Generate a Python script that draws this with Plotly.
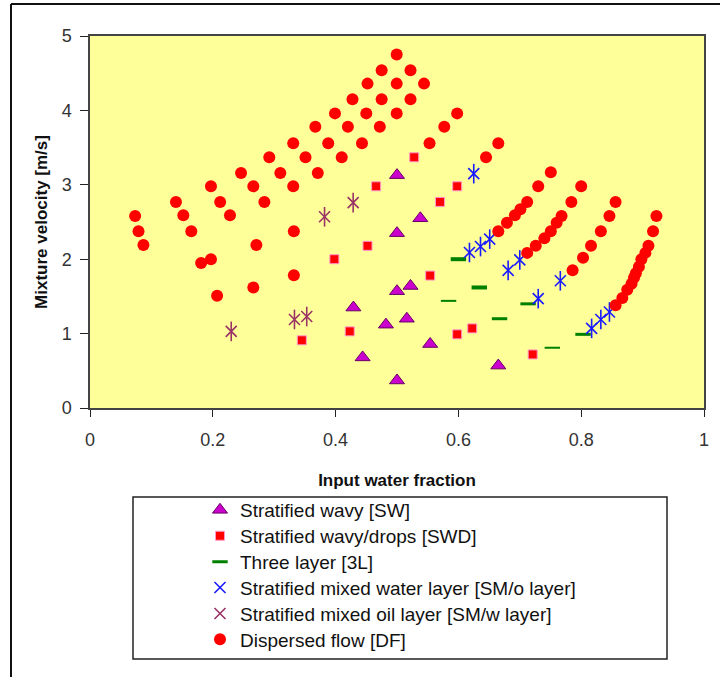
import plotly.graph_objects as go

# ---------------- data ----------------
sw_x = [0.500, 0.538, 0.500, 0.522, 0.500, 0.429, 0.516, 0.482, 0.554, 0.444, 0.500, 0.665]
sw_y = [3.13, 2.55, 2.35, 1.64, 1.57, 1.35, 1.20, 1.12, 0.86, 0.68, 0.37, 0.57]

swd_x = [0.528, 0.466, 0.598, 0.570, 0.452, 0.398, 0.554, 0.345, 0.423, 0.598, 0.6225, 0.721]
swd_y = [3.37, 2.98, 2.98, 2.77, 2.18, 2.00, 1.78, 0.91, 1.03, 0.99, 1.07, 0.72]

tl_x = [0.600, 0.634, 0.584, 0.667, 0.7135, 0.753, 0.803]
tl_y = [2.00, 1.62, 1.44, 1.20, 1.40, 0.81, 0.99]

smo_x = [0.625, 0.618, 0.636, 0.651, 0.681, 0.700, 0.730, 0.766, 0.817, 0.832, 0.846]
smo_y = [3.15, 2.09, 2.17, 2.27, 1.85, 1.99, 1.47, 1.71, 1.07, 1.19, 1.29]

smw_x = [0.230, 0.333, 0.353, 0.382, 0.4286]
smw_y = [1.03, 1.19, 1.23, 2.57, 2.76]

df_x = [0.0735, 0.079, 0.087,
        0.140, 0.152, 0.165, 0.181, 0.197, 0.197, 0.212, 0.207, 0.228,
        0.246, 0.266, 0.271, 0.266, 0.284, 0.292, 0.310,
        0.331, 0.331, 0.332, 0.332, 0.351, 0.367, 0.371,
        0.388, 0.399, 0.410, 0.420, 0.4275, 0.443, 0.450, 0.452,
        0.472, 0.475, 0.475, 0.4995, 0.4995, 0.4995, 0.522, 0.522, 0.544,
        0.553, 0.577, 0.598, 0.645, 0.665,
        0.665, 0.679, 0.692, 0.701, 0.712, 0.730, 0.7505,
        0.712, 0.726, 0.740, 0.7505, 0.760, 0.768, 0.784, 0.800,
        0.786, 0.803, 0.816, 0.832, 0.846, 0.856,
        0.856, 0.867, 0.875, 0.882, 0.886, 0.889, 0.894, 0.898, 0.9045, 0.9095, 0.917, 0.9225]
df_y = [2.58, 2.375, 2.19,
        2.77, 2.59, 2.375, 1.95, 2.00, 2.98, 2.77, 1.51, 2.59,
        3.16, 2.98, 2.19, 1.62, 2.77, 3.37, 3.16,
        3.56, 2.98, 2.375, 1.785, 3.37, 3.78, 3.16,
        3.56, 3.96, 3.37, 3.78, 4.15, 3.56, 3.96, 4.36,
        3.78, 4.15, 4.54, 4.75, 4.36, 3.96, 4.54, 4.15, 4.36,
        3.56, 3.78, 3.96, 3.37, 3.56,
        2.375, 2.49, 2.59, 2.67, 2.77, 2.98, 3.17,
        2.085, 2.18, 2.28, 2.375, 2.49, 2.58, 2.77, 2.98,
        1.85, 2.02, 2.18, 2.375, 2.58, 2.77,
        1.38, 1.48, 1.59, 1.67, 1.75, 1.81, 1.90, 2.00, 2.085, 2.18, 2.375, 2.58]

x_ticks = [0, 0.2, 0.4, 0.6, 0.8, 1]
x_tick_labels = ["0", "0.2", "0.4", "0.6", "0.8", "1"]
y_ticks = [0, 1, 2, 3, 4, 5]

names = ["Stratified wavy [SW]",
         "Stratified wavy/drops [SWD]",
         "Three layer [3L]",
         "Stratified mixed water layer [SM/o layer]",
         "Stratified mixed oil layer [SM/w layer]",
         "Dispersed flow [DF]"]

# ---------------- styles ----------------
FONT = "Arial, Liberation Sans, sans-serif"
tl_widths = [4, 4, 2, 3, 3, 2, 3]

# geometry helpers (pixel -> paper)
L, R, T, B = 90, 704, 36, 408
W, H = R - L, B - T


def px(xp):
    return (xp - L) / W


def py(yp):
    return (B - yp) / H


LEG_IDS = ["legend", "legend2", "legend3", "legend4", "legend5", "legend6"]
LEG_TOP = 491
LEG_STEP = 25.9

fig = go.Figure()

fig.add_trace(go.Scatter(x=sw_x, y=sw_y, mode="markers", name=names[0], legend=LEG_IDS[0],
                         marker=dict(symbol="triangle-up", size=13, color="#CC00CC",
                                     line=dict(color="#660066", width=1))))
fig.add_trace(go.Scatter(x=swd_x, y=swd_y, mode="markers", name=names[1], legend=LEG_IDS[1],
                         marker=dict(symbol="square", size=9, color="#FF0000",
                                     line=dict(color="#FF99CC", width=1))))
fig.add_trace(go.Scatter(x=tl_x, y=tl_y, mode="markers", name=names[2], legend=LEG_IDS[2],
                         marker=dict(symbol="line-ew", size=11, color="#008000",
                                     line=dict(color="#008000", width=tl_widths))))
# SM/o : six-armed asterisk = x + vertical stroke
fig.add_trace(go.Scatter(x=smo_x, y=smo_y, mode="markers", name=names[3], legend=LEG_IDS[3],
                         legendgroup="smo",
                         marker=dict(symbol="x-thin", size=11,
                                     line=dict(color="#1A1AFF", width=1.6))))
fig.add_trace(go.Scatter(x=smo_x, y=smo_y, mode="markers", showlegend=False, legendgroup="smo",
                         legend=LEG_IDS[3], hoverinfo="skip",
                         marker=dict(symbol="line-ns", size=14,
                                     line=dict(color="#1A1AFF", width=1.6))))
fig.add_trace(go.Scatter(x=smw_x, y=smw_y, mode="markers", name=names[4], legend=LEG_IDS[4],
                         legendgroup="smw",
                         marker=dict(symbol="x-thin", size=11,
                                     line=dict(color="#993366", width=1.6))))
fig.add_trace(go.Scatter(x=smw_x, y=smw_y, mode="markers", showlegend=False, legendgroup="smw",
                         legend=LEG_IDS[4], hoverinfo="skip",
                         marker=dict(symbol="line-ns", size=14,
                                     line=dict(color="#993366", width=1.6))))
fig.add_trace(go.Scatter(x=df_x, y=df_y, mode="markers", name=names[5], legend=LEG_IDS[5],
                         marker=dict(symbol="circle", size=12, color="#FF0000",
                                     line=dict(width=0))))

legend_layouts = {}
for i, lid in enumerate(LEG_IDS):
    legend_layouts[lid] = dict(x=px(200), y=py(LEG_TOP + i * LEG_STEP),
                               xanchor="left", yanchor="top",
                               bgcolor="rgba(0,0,0,0)", borderwidth=0,
                               font=dict(family=FONT, size=19, color="#111111"))

fig.update_layout(
    width=720, height=677,
    margin=dict(l=L, r=720 - R, t=T, b=677 - B),
    paper_bgcolor="white",
    plot_bgcolor="#FFFF99",
    font=dict(family=FONT, size=17, color="#222222"),
    showlegend=True,
    **legend_layouts,
    xaxis=dict(range=[0, 1], tickvals=x_ticks, ticktext=x_tick_labels,
               showgrid=False, zeroline=False,
               showline=True, linecolor="#444444", linewidth=1.5, mirror=True,
               ticks="outside", ticklen=7, tickcolor="#222222", tickwidth=1,
               ticklabelstandoff=8,
               tickfont=dict(size=18, color="#333333"),
               title=dict(text="<b>Input water fraction</b>", standoff=25,
                          font=dict(size=17, color="#111111"))),
    yaxis=dict(range=[0, 5], tickvals=y_ticks,
               showgrid=False, zeroline=False,
               showline=True, linecolor="#444444", linewidth=1.5, mirror=True,
               ticks="outside", ticklen=8, tickcolor="#222222", tickwidth=1,
               ticklabelstandoff=5,
               tickfont=dict(size=18, color="#333333"),
               title=dict(text="<b>Mixture velocity [m/s]</b>", standoff=10,
                          font=dict(size=17, color="#111111"))),
    shapes=[
        # legend box
        dict(type="rect", xref="paper", yref="paper", layer="above",
             x0=px(133), x1=px(667), y0=py(659), y1=py(497),
             line=dict(color="#222222", width=1.5), fillcolor="rgba(0,0,0,0)"),
        # outer frame (left and top edges visible)
        dict(type="line", xref="paper", yref="paper", layer="above",
             x0=px(11), x1=px(11), y0=py(690), y1=py(4),
             line=dict(color="#111111", width=2)),
        dict(type="line", xref="paper", yref="paper", layer="above",
             x0=px(11), x1=px(730), y0=py(4), y1=py(4),
             line=dict(color="#111111", width=2)),
    ],
)

fig.write_html("out.html", config={"displayModeBar": False},
               post_script="document.body.style.margin='0';document.body.style.padding='0';")
